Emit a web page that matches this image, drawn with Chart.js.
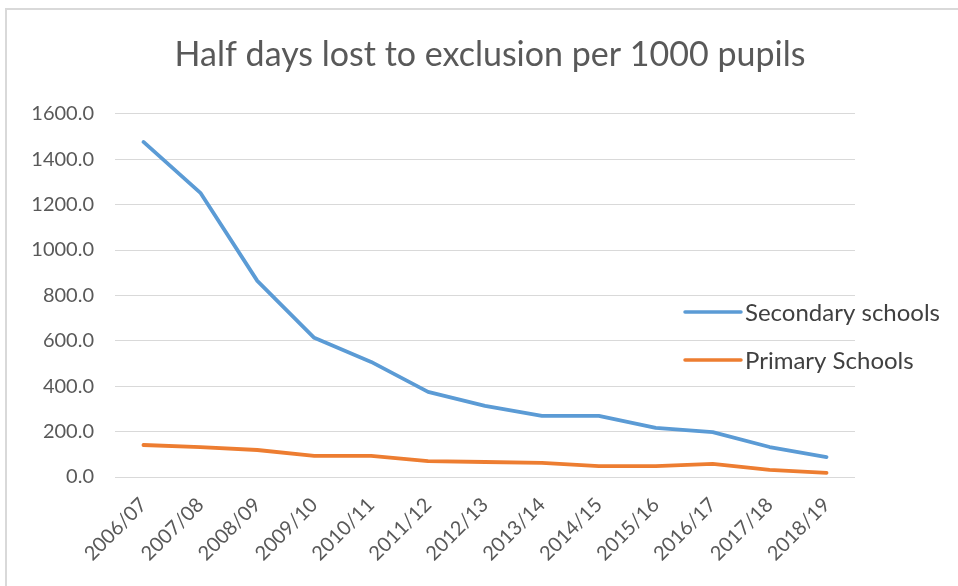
<!DOCTYPE html>
<html>
<head>
<meta charset="utf-8">
<script src="https://cdn.jsdelivr.net/npm/chart.js@4.4.1/dist/chart.umd.min.js"></script>
<style>
  html, body { margin: 0; padding: 0; background: #ffffff; }
  #wrap { position: relative; width: 958px; height: 586px; }
</style>
</head>
<body>
<div id="wrap"><canvas id="c" width="958" height="586"></canvas></div>
<script>
const years = ['2006/07','2007/08','2008/09','2009/10','2010/11','2011/12','2012/13',
               '2013/14','2014/15','2015/16','2016/17','2017/18','2018/19'];
const secondarySchools = [1476, 1252, 864, 613, 507, 375, 313, 269, 269, 216, 198, 132, 88];
const primarySchools   = [141, 132, 119, 93, 93, 70, 66, 62, 48, 48, 58, 31, 18];
const yTicks = [0, 200, 400, 600, 800, 1000, 1200, 1400, 1600];

const FONT = 'Lato, "Open Sans", sans-serif';
const TEXT = '#595959';
const GRID = '#d9d9d9';

// Outer frame around the whole chart object
const framePlugin = {
  id: 'frame',
  beforeDraw(chart) {
    const ctx = chart.ctx;
    ctx.save();
    ctx.fillStyle = '#ffffff';
    ctx.fillRect(0, 0, chart.width, chart.height);
    ctx.strokeStyle = GRID;
    ctx.lineWidth = 2;
    ctx.strokeRect(6, 9, chart.width + 20, chart.height + 20);
    ctx.restore();
  }
};

// Legend drawn over the right side of the plot area
const sideLegend = {
  id: 'sideLegend',
  afterDraw(chart) {
    const ctx = chart.ctx;
    const x0 = 685, lineLen = 56, gap = 4;
    const rows = [312, 360];
    ctx.save();
    ctx.font = '24px ' + FONT;
    ctx.textBaseline = 'middle';
    chart.data.datasets.forEach((ds, i) => {
      const y = rows[i];
      ctx.strokeStyle = ds.borderColor;
      ctx.lineWidth = 3.5;
      ctx.lineCap = 'round';
      ctx.beginPath();
      ctx.moveTo(x0, y);
      ctx.lineTo(x0 + lineLen, y);
      ctx.stroke();
      ctx.fillStyle = '#404040';
      ctx.fillText(ds.label, x0 + lineLen + gap, y + 1);
    });
    ctx.restore();
  }
};

new Chart(document.getElementById('c'), {
  type: 'line',
  data: {
    labels: years,
    datasets: [
      { label: 'Secondary schools', data: secondarySchools, borderColor: '#5b9bd5',
        borderWidth: 3.8, pointRadius: 0, tension: 0, borderJoinStyle: 'round', borderCapStyle: 'round' },
      { label: 'Primary Schools', data: primarySchools, borderColor: '#ed7d31',
        borderWidth: 3.8, pointRadius: 0, tension: 0, borderJoinStyle: 'round', borderCapStyle: 'round' }
    ]
  },
  options: {
    responsive: false,
    animation: false,
    devicePixelRatio: 1,
    layout: { padding: { left: 22, right: 0, top: 0, bottom: 0 } },
    plugins: {
      legend: { display: false },
      tooltip: { enabled: false },
      title: {
        display: true,
        text: 'Half days lost to exclusion per 1000 pupils',
        color: TEXT,
        font: { family: FONT, size: 34, weight: 'normal' },
        padding: { top: 35, bottom: 38 }
      }
    },
    scales: {
      x: {
        offset: true,
        grid: { display: false, drawTicks: false },
        border: { display: false },
        ticks: {
          color: TEXT, font: { family: FONT, size: 20 },
          minRotation: 45, maxRotation: 45, autoSkip: false, padding: 16
        },
        afterFit(scale) { scale.height = 109; }
      },
      y: {
        min: 0, max: 1600,
        afterBuildTicks(scale) { scale.ticks = yTicks.map(v => ({ value: v })); },
        grid: { color: GRID, lineWidth: 1, drawTicks: false },
        border: { display: false },
        ticks: {
          color: TEXT, font: { family: FONT, size: 20 }, padding: 21,
          callback: v => Number(v).toFixed(1)
        },
        afterFit(scale) { scale.width = 93; }
      },
      // empty right-hand gutter that leaves room for the legend text
      gutter: {
        type: 'linear', position: 'right', display: true,
        grid: { display: false, drawTicks: false },
        border: { display: false },
        ticks: { display: false },
        afterFit(scale) { scale.width = 103; }
      }
    }
  },
  plugins: [framePlugin, sideLegend]
});
</script>
</body>
</html>
